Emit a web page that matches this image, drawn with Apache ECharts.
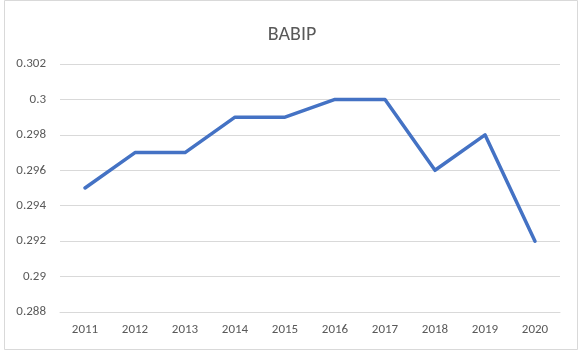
<!DOCTYPE html>
<html><head><meta charset="utf-8">
<script src="https://cdn.jsdelivr.net/npm/echarts@6/dist/echarts.min.js"></script>
<style>html,body{margin:0;padding:0;background:#fff}#c{width:584px;height:355px}</style>
</head><body><div id="c"></div>
<script>
const categories = ['2011','2012','2013','2014','2015','2016','2017','2018','2019','2020'];
const babip = [0.295,0.297,0.297,0.299,0.299,0.300,0.300,0.296,0.298,0.292];
const chart = echarts.init(document.getElementById('c'));
chart.setOption({
  animation:false,
  backgroundColor:'#fff',
  graphic:[{type:'rect',shape:{x:4.5,y:0.5,width:573,height:349},style:{fill:'none',stroke:'#d9d9d9',lineWidth:1}}],
  title:{text:'BABIP',left:'center',top:20,textStyle:{fontFamily:'Carlito, Lato, sans-serif',fontSize:20,fontWeight:'normal',color:'#595959'}},
  grid:{left:60,right:24,top:64,bottom:43},
  xAxis:{type:'category',data:categories,boundaryGap:true,
    axisLine:{lineStyle:{color:'#d9d9d9'}},axisTick:{show:false},
    axisLabel:{color:'#595959',fontSize:13,fontFamily:'Carlito, Lato, sans-serif',margin:11}},
  yAxis:{type:'value',min:0.288,max:0.302,interval:0.002,
    axisLine:{show:false},axisTick:{show:false},
    splitLine:{lineStyle:{color:'#d9d9d9'}},
    axisLabel:{color:'#595959',fontSize:13,fontFamily:'Carlito, Lato, sans-serif',margin:14,
      formatter:v=>String(parseFloat(v.toFixed(3)))}},
  series:[{type:'line',data:babip,symbol:'none',lineStyle:{color:'#4472C4',width:3.5,cap:'round',join:'round'}}]
});
</script></body></html>
